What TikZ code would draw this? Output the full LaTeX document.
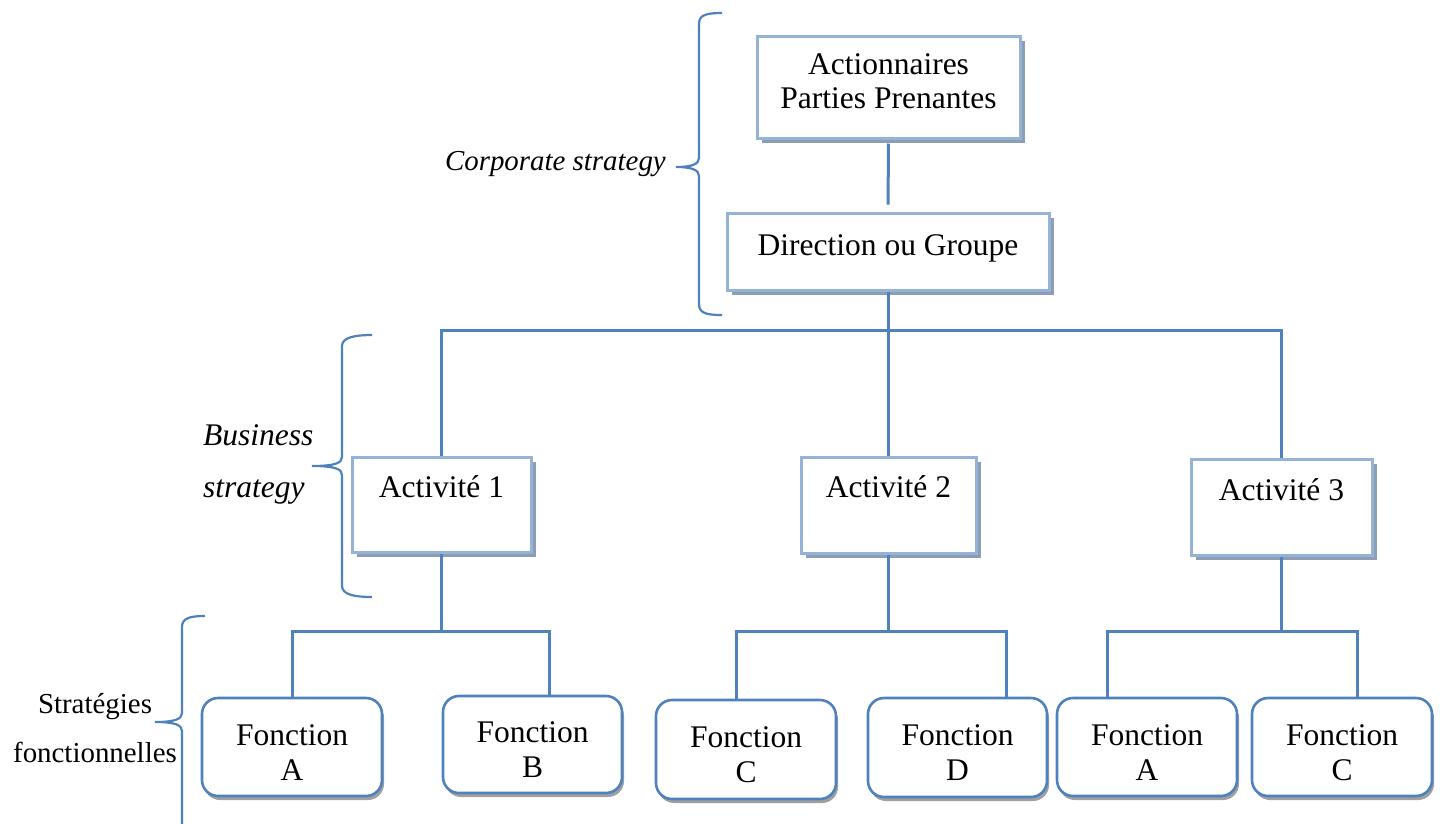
\documentclass[tikz,border=0pt]{standalone}
\usepackage{fontspec}
\setmainfont{Liberation Serif}
\usetikzlibrary{shadows,calc}
\definecolor{lineblue}{HTML}{4F81BD}
\definecolor{lightblue}{HTML}{95B3D7}
\definecolor{rshadow}{HTML}{8C9DB5}
\definecolor{gshadow}{HTML}{A0A0A0}
\tikzset{
  conn/.style={draw=lineblue, line width=3pt},
  brace/.style={draw=lineblue, line width=2.2pt},
  mainfont/.style={font=\fontsize{31.5}{35}\selectfont},
  rectbox/.style={draw=lightblue, line width=3pt, fill=white,
    drop shadow={shadow xshift=5pt, shadow yshift=-5pt, fill=rshadow, opacity=1},
    inner sep=0pt, mainfont, align=center, text height=22pt},
  actbox/.style={rectbox, text depth=37pt},
  funbox/.style={draw=lineblue, line width=2.6pt, rounded corners=16pt, fill=white,
    drop shadow={shadow xshift=2pt, shadow yshift=-4pt, fill=gshadow, opacity=1},
    inner sep=0pt, mainfont, align=center, text height=70pt, text depth=4pt},
  lbl/.style={inner sep=0pt, font=\fontsize{31.5}{52}\selectfont\itshape},
}
\begin{document}
\begin{tikzpicture}[x=1pt,y=-1pt]
\useasboundingbox (0,0) rectangle (1440,823);

% boxes
\node[rectbox, minimum width=263pt, minimum height=102pt, font=\fontsize{31.5}{34}\selectfont, text height=56pt, text depth=14pt] (b1) at (888.5,87) {Actionnaires\\Parties Prenantes};
\node[rectbox, minimum width=322pt, minimum height=77pt, text depth=15pt] (b2) at (888,251.5) {Direction ou Groupe};
\node[actbox, minimum width=179pt, minimum height=95pt] (a1) at (441.5,504.5) {Activité 1};
\node[actbox, minimum width=175pt, minimum height=96pt] (a2) at (888.5,505) {Activité 2};
\node[actbox, minimum width=181pt, minimum height=96pt, text depth=36pt] (a3) at (1281.5,507) {Activité 3};

\node[funbox, minimum width=180pt, minimum height=98pt] (f1) at (292,747) {Fonction\\A};
\node[funbox, minimum width=179pt, minimum height=97pt] (f2) at (532.5,744.5) {Fonction\\B};
\node[funbox, minimum width=180pt, minimum height=99pt] (f3) at (746,749.5) {Fonction\\C};
\node[funbox, minimum width=179pt, minimum height=99pt] (f4) at (957.5,747.5) {Fonction\\D};
\node[funbox, minimum width=180pt, minimum height=98pt] (f5) at (1147,747) {Fonction\\A};
\node[funbox, minimum width=180pt, minimum height=98pt] (f6) at (1342,747) {Fonction\\C};

% connectors
\draw[conn, shorten <=4pt, shorten >=7pt] (b1.south) -- (b2.north);
\coordinate (bar) at (888,330);
\draw[conn] (b2.south) -- (bar);
\draw[conn] (a1.north) -- (a1.north |- bar) -- (a3.north |- bar) -- (a3.north);
\draw[conn] (a2.north) -- (a2.north |- bar);

\coordinate (r1) at (441,631);
\coordinate (r2) at (887,631);
\coordinate (r3) at (1282,631);
\coordinate (f1t) at (f1.north);
\coordinate (f2t) at ([xshift=16.5pt]f2.north);
\coordinate (f3t) at ([xshift=-10pt]f3.north);
\coordinate (f4t) at ([xshift=48.5pt]f4.north);
\coordinate (f5t) at ([xshift=-40pt]f5.north);
\coordinate (f6t) at ([xshift=15pt]f6.north);

\draw[conn] (a1.south) -- (a1.south |- r1);
\draw[conn] (f1t) -- (f1t |- r1) -- (f2t |- r1) -- (f2t);
\draw[conn] (a2.south) -- (a2.south |- r2);
\draw[conn] (f3t) -- (f3t |- r2) -- (f4t |- r2) -- (f4t);
\draw[conn] (a3.south) -- (a3.south |- r3);
\draw[conn] (f5t) -- (f5t |- r3) -- (f6t |- r3) -- (f6t);

% labels
\node[lbl, font=\fontsize{28.9}{34}\selectfont\itshape, anchor=base east] (cs) at (666,170) {Corporate strategy};
\node[lbl, anchor=base west, align=left] (bs) at (203,497) {Business\\strategy};
\node[inner sep=0pt, font=\fontsize{28.9}{49}\selectfont, align=center, anchor=base] (sf) at (95,762) {Stratégies\\fonctionnelles};

% braces
\draw[brace] (722,13) .. controls (706,13) and (699,15) .. (699,24) -- (699,158)
  .. controls (699,164) and (692,167) .. (676,167)
  .. controls (692,167) and (699,170) .. (699,176) -- (699,304)
  .. controls (699,313) and (706,315) .. (722,315);
\draw[brace] (372,335) .. controls (356,335) and (342,337) .. (342,346) -- (342,457)
  .. controls (342,463) and (335,466) .. (312,466)
  .. controls (335,466) and (342,469) .. (342,475) -- (342,586)
  .. controls (342,595) and (356,597) .. (372,597);
\draw[brace] (205,616) .. controls (190,616) and (182,618) .. (182,627) -- (182,713)
  .. controls (182,719) and (175,722) .. (155,722)
  .. controls (175,722) and (182,725) .. (182,731) -- (182,830);
\end{tikzpicture}
\end{document}
